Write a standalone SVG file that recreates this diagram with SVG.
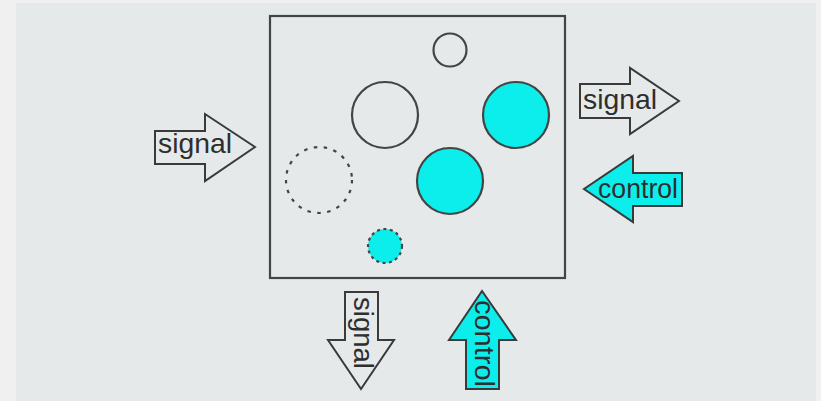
<svg xmlns="http://www.w3.org/2000/svg" width="821" height="401" viewBox="0 0 821 401">
<style>
.arrow{stroke:#3a3a3a;stroke-width:2;stroke-linejoin:miter}
.sig{fill:#e6e9ea}
.ctl{fill:#0ceeec}
.lbl{font-family:"Liberation Sans",Arial,sans-serif;font-size:27.5px;fill:#2e2e2e}
.circ{stroke:#444;stroke-width:2.2}
</style>
<rect x="0" y="0" width="821" height="401" fill="#f0f0f0"/>
<rect x="16" y="3" width="800" height="398" fill="#e6e9ea"/>
<g id="box">
<rect x="270" y="16" width="295" height="262" fill="none" stroke="#444" stroke-width="2.2"/>
</g>
<g id="circle-small-top"><circle class="circ" cx="450" cy="50" r="16.5" fill="none"/></g>
<g id="circle-empty"><circle class="circ" cx="385" cy="115" r="33" fill="none"/></g>
<g id="circle-cyan-right"><circle class="circ" cx="516" cy="115" r="33" fill="#0ceeec"/></g>
<g id="circle-cyan-mid"><circle class="circ" cx="450" cy="181" r="33" fill="#0ceeec"/></g>
<g id="circle-dashed"><circle class="circ" cx="319" cy="180" r="33" fill="none" stroke-dasharray="3.5 6.5"/></g>
<g id="circle-cyan-dashed"><circle class="circ" cx="385" cy="246" r="17" fill="#0ceeec" stroke-dasharray="3 3.5"/></g>
<g id="connectors">
<g id="signal-in">
<polygon class="arrow sig" points="155,131 205,131 205,114 255,147 205,181 205,164 155,164"/>
<text class="lbl" x="158" y="153" textLength="74" lengthAdjust="spacingAndGlyphs">signal</text>
</g>
<g id="signal-out">
<polygon class="arrow sig" points="580,84 630,84 630,68 679,101 630,134 630,118 580,118"/>
<text class="lbl" x="583" y="108.5" textLength="74" lengthAdjust="spacingAndGlyphs">signal</text>
</g>
<g id="control-in-right">
<polygon class="arrow ctl" points="682,173 633,173 633,156 584,189 633,222 633,206 682,206"/>
<text class="lbl" x="598" y="197.5" textLength="80" lengthAdjust="spacingAndGlyphs">control</text>
</g>
<g id="signal-down">
<polygon class="arrow sig" points="345,292 378,292 378,340 394,340 361,389 328,340 345,340"/>
<text class="lbl" transform="translate(354,297) rotate(90)" x="0" y="0" textLength="72" lengthAdjust="spacingAndGlyphs">signal</text>
</g>
<g id="control-up">
<polygon class="arrow ctl" points="466,389 466,340 449,340 482,291 516,340 499,340 499,389"/>
<text class="lbl" transform="translate(475,300) rotate(90)" x="0" y="0" textLength="87" lengthAdjust="spacingAndGlyphs">control</text>
</g>
</g>
</svg>
